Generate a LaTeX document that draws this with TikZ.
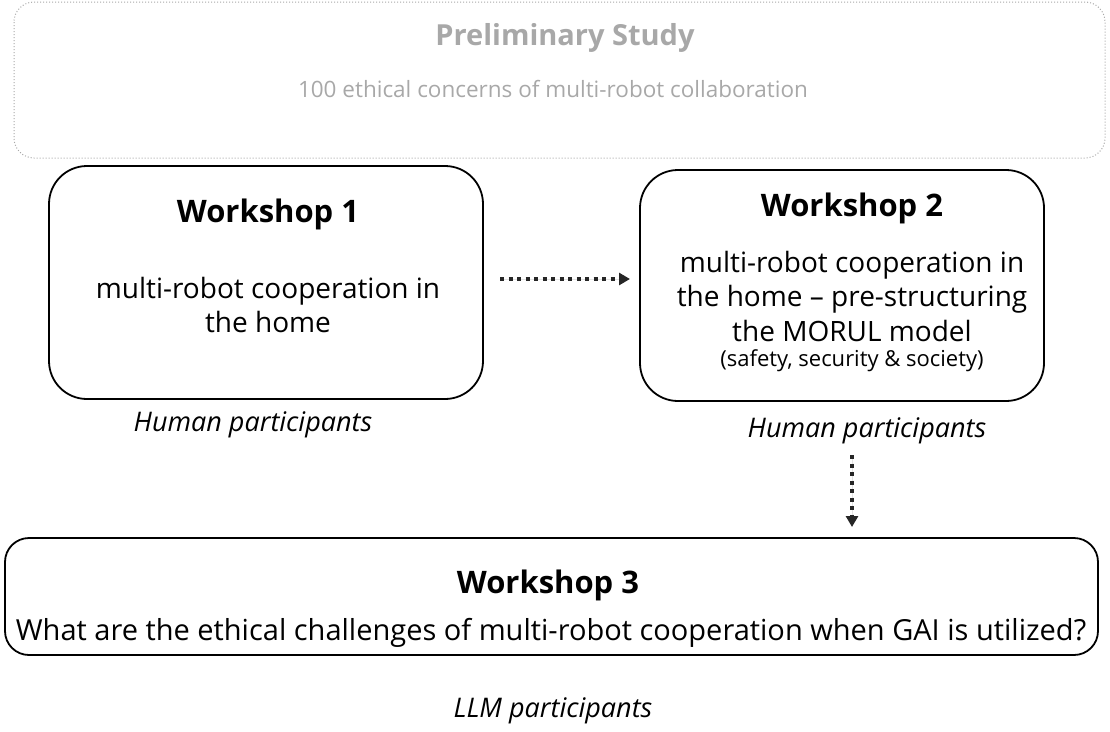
\documentclass[tikz,border=0pt]{standalone}
\usepackage{fontspec}
\setmainfont{Open Sans}
\usetikzlibrary{arrows.meta}
\definecolor{topgray}{RGB}{168,168,168}
\tikzset{
  wbox/.style={draw=black, line width=1.8pt, rounded corners=38pt},
  topbox/.style={draw=topgray, line width=1pt, dotted, rounded corners=20pt},
  flow/.style={line width=3.5pt, dash pattern=on 4pt off 4.5pt, -{Triangle[length=11pt,width=12pt]}, draw=black!85, fill=black!85},
  ttl/.style={font=\fontsize{31}{36}\selectfont\bfseries},
  body/.style={font=\fontsize{28}{34.5}\selectfont, align=center},
  lab/.style={font=\fontsize{27}{32}\selectfont\itshape},
}
\begin{document}
\begin{tikzpicture}[x=1pt,y=-1pt]
\useasboundingbox (0,0) rectangle (1110,731);
% top box
\draw[topbox] (14,2) rectangle (1105,158);
\node[text=topgray, font=\fontsize{29}{32}\selectfont\bfseries] (pt) at (565,38) {Preliminary Study};
\node[text=topgray, font=\fontsize{22.5}{30}\selectfont] (ps) at (553,89) {100 ethical concerns of multi-robot collaboration};
% workshop 1
\draw[wbox] (49,166) rectangle (483,399);
\node[ttl] (w1t) at (268,214) {Workshop 1};
\node[body] (w1b) at (268,305) {multi-robot cooperation in\\the home};
\node[lab] (w1l) at (253,425) {Human participants};
% workshop 2
\draw[wbox] (640,170) rectangle (1044,401);
\node[ttl] (w2t) at (852,208) {Workshop 2};
\node[body] (w2b) at (852,296) {multi-robot cooperation in\\the home -- pre-structuring\\the MORUL model};
\node[font=\fontsize{22}{26}\selectfont] (w2s) at (852,361) {(safety, security \& society)};
\node[lab] (w2l) at (867,431) {Human participants};
% workshop 3
\draw[wbox, rounded corners=24pt] (5,538) rectangle (1098,655);
\node[ttl] (w3t) at (548,585) {Workshop 3};
\node[body, font=\fontsize{29}{34}\selectfont] (w3b) at (551,633) {What are the ethical challenges of multi-robot cooperation when GAI is utilized?};
\node[lab] (w3l) at (553,711) {LLM participants};
% arrows
\coordinate (a1s) at (500,279);
\coordinate (a1e) at (630,279);
\draw[flow] (a1s) -- (a1e);
\coordinate (a2s) at (852,455);
\coordinate (a2e) at (852,527);
\draw[flow] (a2s) -- (a2e);
\end{tikzpicture}
\end{document}
